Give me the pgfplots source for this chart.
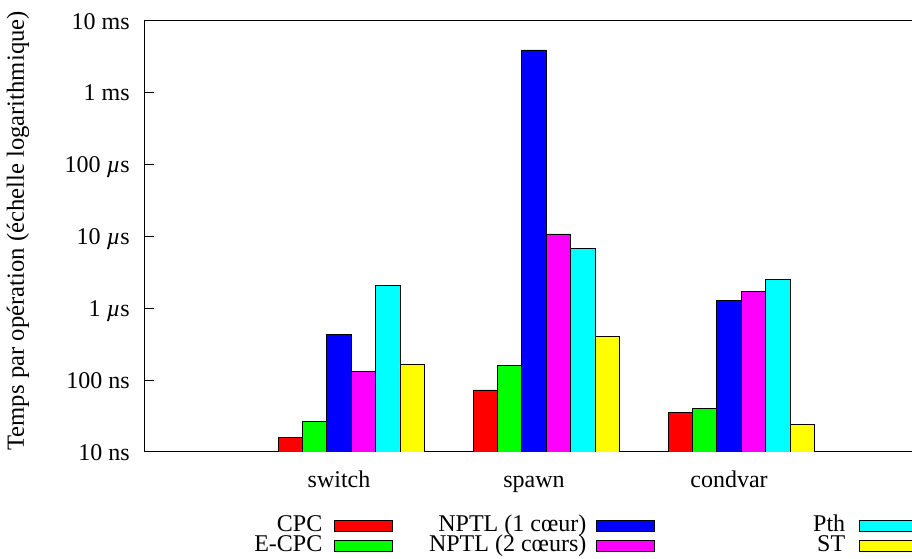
\documentclass[border=0pt]{standalone}
\usepackage{fontspec}
\setmainfont{Liberation Serif}
\usepackage{pgfplots}
\pgfplotsset{compat=1.18}
\definecolor{gpred}{RGB}{255,0,0}
\definecolor{gpgreen}{RGB}{0,255,0}
\definecolor{gpblue}{RGB}{0,0,255}
\definecolor{gpmagenta}{RGB}{255,0,255}
\definecolor{gpcyan}{RGB}{0,255,255}
\definecolor{gpyellow}{RGB}{255,255,0}
\pgfplotsset{
  lg/.style={legend image code/.code={\draw[##1] (0pt,-3.5pt) rectangle (43.5pt,4.5pt);}},
  mybar/.style={draw=black, line width=0.6pt, fill=#1, lg},
}
\begin{document}
\begin{tikzpicture}[font=\fontsize{18}{21}\selectfont]
\useasboundingbox (0,0) rectangle (684pt,419.25pt);
\clip (0,0) rectangle (684pt,419.25pt);
\begin{axis}[
  at={(108pt,80.25pt)}, anchor=south west,
  scale only axis, width=585pt, height=323.25pt,
  xmin=-1, xmax=3,
  ymode=log, ymin=10, ymax=1e7,
  log origin y=infty,
  ybar, bar width=0.125,
  xtick={0,1,2}, xticklabels={switch,spawn,condvar},
  major x tick style={draw=none},
  xticklabel style={inner sep=0pt, text height=12.3pt, text depth=4pt, yshift=-7pt},
  ytick={10,100,1000,10000,100000,1000000,10000000},
  yticklabels={10 ns,100 ns,1 \textit{µ}s,10 \textit{µ}s,100 \textit{µ}s,1 ms,10 ms},
  yminorticks=false,
  ytick pos=left,
  major tick length=7.5pt,
  yticklabel style={inner sep=0pt, text height=12.2pt, text depth=0pt, xshift=-10.5pt},
  ylabel={Temps par opération (échelle logarithmique)},
  ylabel style={at={(axis description cs:-0.1615,0.513)}, anchor=center, font=\fontsize{18.5}{21}\selectfont},
  axis line style={line width=0.75pt},
  every tick/.style={line width=0.75pt, black},
  legend columns=2, transpose legend, legend plot pos=right, legend cell align=right,
  legend style={at={(axis description cs:0.141,-0.149)}, anchor=north west,
    draw=none, fill=none, inner sep=0pt, column sep=0pt, row sep=0pt,
    nodes={inner sep=0pt, text height=11pt, text depth=4pt},
    /tikz/column 1/.style={column sep=9pt},
    /tikz/column 2/.style={column sep=27pt},
    /tikz/column 3/.style={column sep=7.5pt},
    /tikz/column 4/.style={column sep=118.5pt},
    /tikz/column 5/.style={column sep=10.5pt}},
]
\addplot[mybar=gpred, bar shift=-0.25] coordinates {(0,16.0) (1,73) (2,35.7)};
\addlegendentry{CPC}
\addplot[mybar=gpgreen, bar shift=-0.125] coordinates {(0,26.7) (1,159) (2,40.6)};
\addlegendentry{E-CPC}
\addplot[mybar=gpblue, bar shift=0] coordinates {(0,435) (1,3950000) (2,1294)};
\addlegendentry{NPTL (1 cœur)}
\addplot[mybar=gpmagenta, bar shift=0.125] coordinates {(0,133) (1,10840) (2,1742)};
\addlegendentry{NPTL (2 cœurs)}
\addplot[mybar=gpcyan, bar shift=0.25] coordinates {(0,2094) (1,6760) (2,2536)};
\addlegendentry{Pth}
\addplot[mybar=gpyellow, bar shift=0.375] coordinates {(0,166) (1,403) (2,24.3)};
\addlegendentry{ST}
\end{axis}
\end{tikzpicture}
\end{document}
